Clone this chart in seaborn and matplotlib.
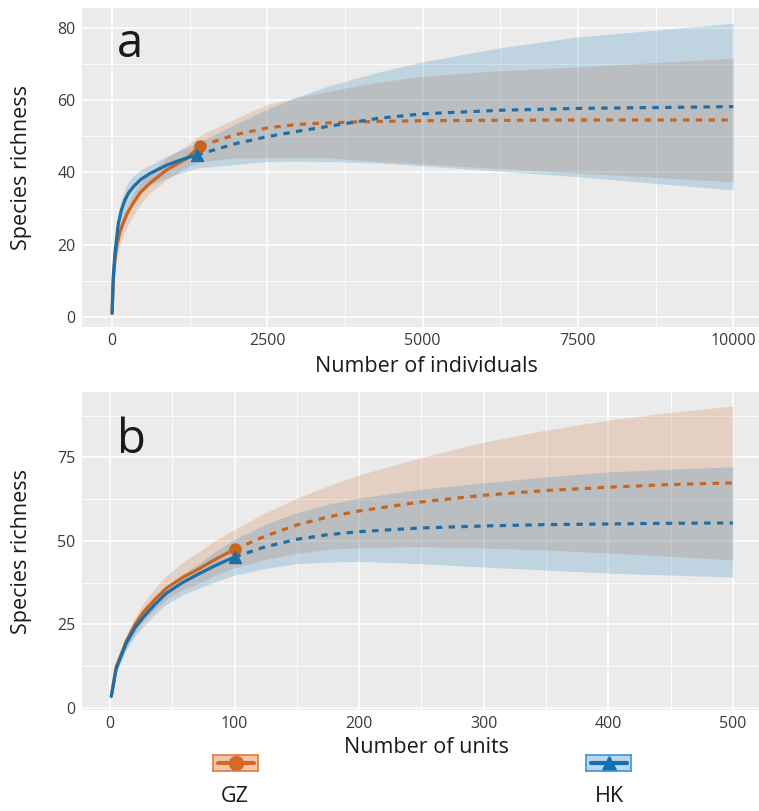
import seaborn as sns
import matplotlib.pyplot as plt
from matplotlib.ticker import MultipleLocator
from matplotlib.lines import Line2D

gz_col = '#C8651F'
hk_col = '#1F6EA5'
gz_fill = '#C8651F'
hk_fill = '#2A80BE'

# ---- panel a: individual-based rarefaction / extrapolation ----
a_gz_obs_x = [1, 21, 45, 75, 120, 180, 250, 340, 460, 610, 880, 1200, 1420]
a_gz_obs_y = [1, 10, 15.5, 19.5, 23, 26, 28.8, 31.5, 34.5, 37, 40.7, 43.8, 47.3]
a_gz_ext_x = [1420, 2000, 2500, 3000, 3500, 4000, 5000, 6000, 7500, 10000]
a_gz_ext_y = [47.3, 50.5, 52.3, 53.3, 53.7, 54.0, 54.3, 54.4, 54.5, 54.5]
a_gz_band_x = [1, 21, 45, 75, 120, 180, 250, 340, 460, 610, 880, 1200, 1420,
               2000, 2500, 3000, 3500, 4300, 5000, 6000, 7500, 10000]
a_gz_hi = [1, 12, 18, 22, 25.5, 28.5, 31.3, 34, 37.2, 40, 44, 47.5, 50.3,
           55, 58.8, 60.8, 62.5, 65, 66.6, 67.9, 69.2, 71.6]
a_gz_lo = [1, 8.5, 13, 16, 19.5, 22.5, 25.2, 28, 31.3, 34.3, 38, 41.5, 43,
           44, 44, 44.2, 44, 43, 42.3, 41.3, 39.8, 37.4]

a_hk_obs_x = [1, 20, 48, 102, 150, 210, 270, 343, 460, 612, 880, 1148, 1362]
a_hk_obs_y = [1, 11, 17.7, 25.9, 29.5, 32.4, 34.4, 36, 38, 39.7, 42, 43.7, 44.8]
a_hk_ext_x = [1362, 2000, 2500, 3000, 3500, 4300, 5000, 6250, 7500, 10000]
a_hk_ext_y = [44.8, 48, 49.9, 51.4, 52.8, 55.0, 56.2, 57.2, 57.7, 58.2]
a_hk_band_x = [1, 20, 48, 102, 150, 210, 270, 343, 460, 612, 880, 1148, 1362,
               2000, 2500, 3000, 3500, 4300, 5000, 6250, 7500, 10000]
a_hk_hi = [1, 13, 20.5, 29, 32.5, 35.5, 37.5, 39, 40.7, 42, 44.5, 46.5, 48,
           53.5, 57.5, 61, 64, 67.8, 70.6, 74.5, 77.5, 81.3]
a_hk_lo = [1, 9, 15, 22.5, 26.3, 29, 31.2, 33, 35, 36.5, 38.5, 40, 41.2,
           42.2, 43, 43.1, 43, 42.6, 41.8, 40.3, 38.8, 35.1]

# ---- panel b: sample-based rarefaction / extrapolation ----
b_gz_obs_x = [1, 5, 13, 20, 27, 36, 45, 58, 72, 86, 100]
b_gz_obs_y = [3.5, 12.3, 20, 25, 28.8, 32.5, 35.8, 39, 41.8, 44.8, 47.5]
b_gz_ext_x = [100, 125, 150, 175, 200, 250, 300, 350, 400, 450, 500]
b_gz_ext_y = [47.5, 51.5, 54.8, 57.2, 59.0, 61.7, 63.7, 65.1, 66.1, 66.9, 67.4]
b_gz_band_x = [1, 5, 13, 20, 27, 36, 45, 58, 72, 86, 100,
               125, 150, 175, 200, 250, 300, 350, 400, 450, 500]
b_gz_hi = [3.5, 13, 21.5, 27, 31.5, 35.8, 39.5, 43.5, 47, 50.5, 53.5,
           58.5, 62.8, 66.5, 69.8, 75, 79.6, 83.2, 86.2, 88.5, 90.4]
b_gz_lo = [3.5, 11, 18, 22.5, 26, 29.5, 32.5, 35.3, 37.5, 40, 42,
           44.5, 46.3, 47.5, 48, 48.3, 47.9, 47.3, 46.4, 45.4, 44.3]

b_hk_obs_x = [1, 5, 13, 20, 27, 36, 45, 58, 72, 86, 100]
b_hk_obs_y = [3.5, 11.9, 19.4, 24, 27.3, 31, 34.3, 37.5, 40.3, 42.9, 45.2]
b_hk_ext_x = [100, 125, 150, 175, 200, 250, 300, 350, 400, 450, 500]
b_hk_ext_y = [45.2, 48.3, 50.5, 51.9, 52.8, 53.9, 54.5, 54.9, 55.1, 55.3, 55.4]
b_hk_band_x = [1, 5, 13, 20, 27, 36, 45, 58, 72, 86, 100,
               125, 150, 175, 200, 250, 300, 350, 400, 450, 500]
b_hk_hi = [3.5, 12.5, 20.5, 25.5, 29, 32.8, 36, 40, 43.5, 47.2, 50.5,
           55, 58.5, 61, 62.9, 65.5, 67.4, 69.2, 70.7, 71.5, 72.2]
b_hk_lo = [3.5, 10.5, 17.5, 21.5, 24.5, 28, 31, 33.8, 36, 38, 39.8,
           41.8, 43.2, 43.7, 43.9, 43.2, 42.2, 41.3, 40.4, 39.8, 39.2]

sns.set_theme(style="darkgrid", rc={
    "axes.facecolor": "#EBEBEB",
    "grid.color": "white",
    "axes.edgecolor": "#EBEBEB",
})
plt.rcParams['font.family'] = ['Open Sans', 'DejaVu Sans']

fig = plt.figure(figsize=(7.59, 8.11), dpi=100)
W, H = 759, 811
ax_a = fig.add_axes([82 / W, 1 - 327 / H, 677 / W, 319 / H])
ax_b = fig.add_axes([82 / W, 1 - 710 / H, 677 / W, 318 / H])


def draw_site(ax, obs_x, obs_y, ext_x, ext_y, band_x, lo, hi, color, fill, alpha, marker):
    ax.fill_between(band_x, lo, hi, color=fill, alpha=alpha, lw=0, zorder=2)
    sns.lineplot(x=ext_x, y=ext_y, ax=ax, color=color, lw=2.3, errorbar=None,
                 linestyle=(0, (2, 2)), zorder=3)
    sns.lineplot(x=obs_x, y=obs_y, ax=ax, color=color, lw=2.3, errorbar=None, zorder=4)
    ax.plot(obs_x[-1], obs_y[-1], marker=marker, ms=8, color=color, zorder=5)


draw_site(ax_a, a_gz_obs_x, a_gz_obs_y, a_gz_ext_x, a_gz_ext_y,
          a_gz_band_x, a_gz_lo, a_gz_hi, gz_col, gz_fill, 0.2, 'o')
draw_site(ax_a, a_hk_obs_x, a_hk_obs_y, a_hk_ext_x, a_hk_ext_y,
          a_hk_band_x, a_hk_lo, a_hk_hi, hk_col, hk_fill, 0.22, '^')
draw_site(ax_b, b_gz_obs_x, b_gz_obs_y, b_gz_ext_x, b_gz_ext_y,
          b_gz_band_x, b_gz_lo, b_gz_hi, gz_col, gz_fill, 0.2, 'o')
draw_site(ax_b, b_hk_obs_x, b_hk_obs_y, b_hk_ext_x, b_hk_ext_y,
          b_hk_band_x, b_hk_lo, b_hk_hi, hk_col, hk_fill, 0.22, '^')

ax_a.set_xlim(-483, 10415)
ax_a.set_ylim(-2.8, 85.5)
ax_a.xaxis.set_major_locator(MultipleLocator(2500))
ax_a.xaxis.set_minor_locator(MultipleLocator(1250))
ax_a.yaxis.set_major_locator(MultipleLocator(20))
ax_a.yaxis.set_minor_locator(MultipleLocator(10))
ax_a.set_xlabel("Number of individuals")

ax_b.set_xlim(-22.5, 521)
ax_b.set_ylim(-0.6, 94.6)
ax_b.xaxis.set_major_locator(MultipleLocator(100))
ax_b.xaxis.set_minor_locator(MultipleLocator(50))
ax_b.yaxis.set_major_locator(MultipleLocator(25))
ax_b.yaxis.set_minor_locator(MultipleLocator(12.5))
ax_b.set_xlabel("Number of units")

for ax, lab_y in [(ax_a, -0.123), (ax_b, -0.118)]:
    ax.grid(which='major', color='white', lw=1.2)
    ax.grid(which='minor', color='white', lw=0.6)
    ax.tick_params(which='both', length=0, pad=4.5, labelsize=11.5, labelcolor='#3a3a3a')
    ax.set_ylabel("Species richness", fontsize=15.5, color='#1a1a1a')
    ax.xaxis.label.set_fontsize(15.5)
    ax.xaxis.label.set_color('#1a1a1a')
    ax.xaxis.label.set_va('center')
    ax.yaxis.label.set_va('center')
    ax.xaxis.set_label_coords(0.509, lab_y)
    ax.yaxis.set_label_coords(-0.089, 0.5)
    for s in ax.spines.values():
        s.set_visible(False)

fig.text(117 / W, 1 - 57 / H, "a", fontsize=34, color='#1a1a1a', ha='left', va='baseline')
fig.text(117 / W, 1 - 453 / H, "b", fontsize=34, color='#1a1a1a', ha='left', va='baseline')

# legend keys below panel b
keys = [("GZ", 213, 235, '#F0C8AE', '#E07B3C', '#D8672A', 'o'),
        ("HK", 586, 609, '#B9D6EA', '#3C96D6', '#156EB0', '^')]
for name, left, cx, fill, edge, line_c, mk in keys:
    kax = fig.add_axes([left / W, 1 - 771 / H, 45 / W, 16 / H])
    kax.set_facecolor(fill)
    kax.set_xlim(0, 1)
    kax.set_ylim(0, 1)
    kax.grid(False)
    kax.set_xticks([])
    kax.set_yticks([])
    for s in kax.spines.values():
        s.set_visible(True)
        s.set_color(edge)
        s.set_linewidth(1.2)
    kax.add_line(Line2D([0.1, 0.9], [0.5, 0.5], color=line_c, lw=3))
    kax.plot([0.5], [0.5], marker=mk, ms=10, color=line_c)
    fig.text(cx / W, 1 - 797 / H, name, fontsize=15.5, color='#1a1a1a', ha='center', va='center')

fig.savefig("out.png", dpi=100)
